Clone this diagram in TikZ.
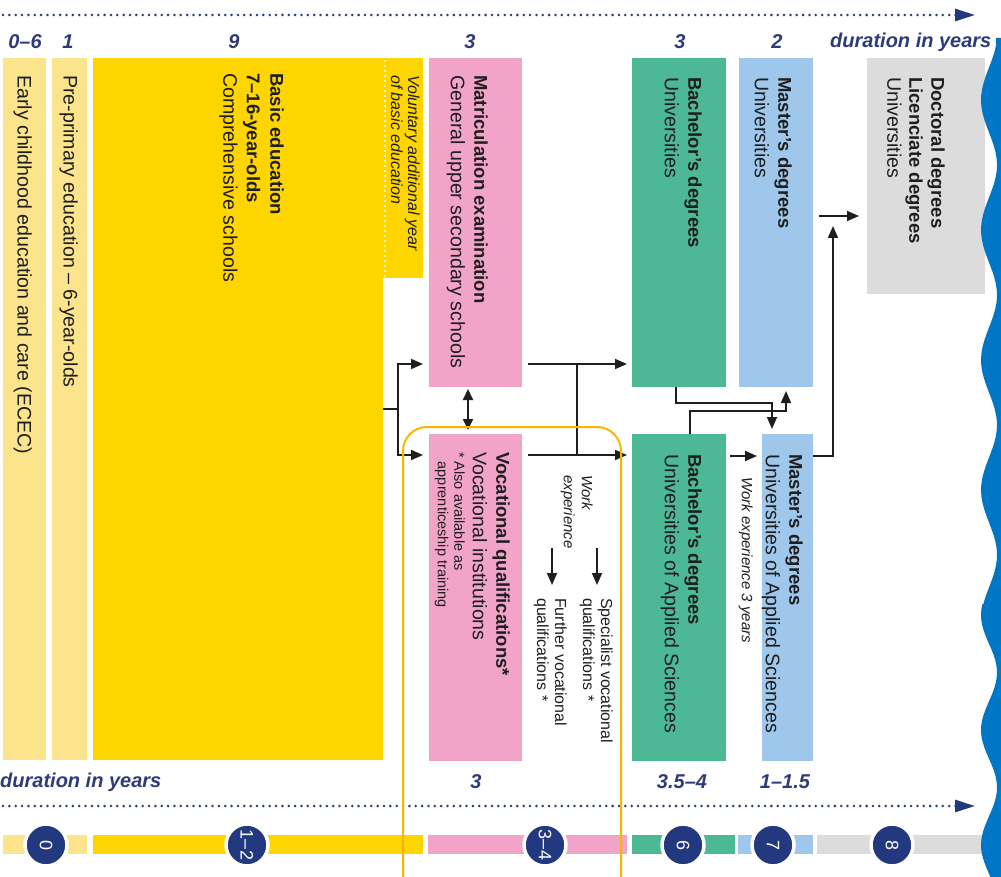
\documentclass[tikz,border=0pt]{standalone}
\usepackage{fontspec}
\setmainfont{Liberation Sans}
\usetikzlibrary{arrows.meta,calc}
\definecolor{lyel}{HTML}{FCE48C}
\definecolor{yel}{HTML}{FFD500}
\definecolor{pnk}{HTML}{F2A3C8}
\definecolor{grn}{HTML}{4DB896}
\definecolor{lblu}{HTML}{9EC7EB}
\definecolor{gry}{HTML}{DCDCDC}
\definecolor{navy}{HTML}{23397F}
\definecolor{durc}{HTML}{2E3B78}
\definecolor{orng}{HTML}{F7B500}
\definecolor{wavec}{HTML}{0077C6}
\definecolor{ink}{HTML}{1E1E1E}
\newcommand\hbold[1]{{\fontsize{18.5}{23.5}\selectfont\bfseries #1}}
\newcommand\durf{\fontsize{20}{22}\selectfont\bfseries\itshape}
\begin{document}
\begin{tikzpicture}[x=1pt,y=-1pt,
 box/.style={anchor=north west, inner sep=0pt, outer sep=0pt, draw=none},
 txt/.style={rotate=-90, anchor=north west, inner sep=0pt, align=left, text=ink, font=\fontsize{19.6}{23.5}\selectfont},
 stxt/.style={txt, font=\fontsize{15}{17}\selectfont\itshape},
 ntxt/.style={txt, font=\fontsize{14.5}{16.5}\selectfont},
 vtxt/.style={txt, font=\fontsize{16}{18}\selectfont},
 dur/.style={text=durc, font=\durf, inner sep=0pt},
 ln/.style={line width=1.8pt, draw=ink},
 arr/.style={ln, -{Triangle[length=12pt,width=10pt]}},
 darr/.style={ln, {Triangle[length=11pt,width=10pt]}-{Triangle[length=11pt,width=10pt]}},
 dotl/.style={draw=navy, line width=2.8pt, line cap=round, dash pattern=on 0pt off 6.35pt, -{Triangle[length=20pt,width=12pt]}},
 circ/.style={circle, fill=navy, draw=white, line width=3.5pt, minimum size=42pt, inner sep=0pt, text=white, rotate=-90, font=\fontsize{18}{18}\selectfont},
]
\useasboundingbox (0,0) rectangle (1001,877);
\fill[white] (0,0) rectangle (1001,877);

% timelines
\coordinate (tl0) at (3,15); \coordinate (tl1) at (975,15);
\coordinate (bl0) at (3,806); \coordinate (bl1) at (975,806);
\draw[dotl] (tl0) -- (tl1);
\draw[dotl] (bl0) -- (bl1);

% durations top
\node[dur] (d1) at (25,42) {0–6};
\node[dur] (d2) at (68,42) {1};
\node[dur] (d3) at (234,42) {9};
\node[dur] (d4) at (470,42) {3};
\node[dur] (d5) at (680,42) {3};
\node[dur] (d6) at (777,42) {2};
\node[dur, anchor=west] (d7) at (830,42) {duration in years};
% durations bottom
\node[dur, anchor=west] (e1) at (0,782) {duration in years};
\node[dur] (e2) at (476,782) {3};
\node[dur] (e3) at (682,782) {3.5–4};
\node[dur] (e4) at (785,782) {1–1.5};

% boxes
\node[box, fill=lyel, minimum width=43pt, minimum height=702pt] (ecec) at (3,58) {};
\node[box, fill=lyel, minimum width=35pt, minimum height=702pt] (pre) at (52,58) {};
\node[box, fill=yel, minimum width=290pt, minimum height=702pt] (basic) at (93,58) {};
\node[box, fill=yel, minimum width=40pt, minimum height=220pt] (vol) at (383,58) {};
\node[box, fill=pnk, minimum width=93pt, minimum height=329pt] (matric) at (429,58) {};
\node[box, fill=pnk, minimum width=93pt, minimum height=327pt] (voc) at (429,434) {};
\node[box, fill=grn, minimum width=94pt, minimum height=329pt] (bachu) at (632,58) {};
\node[box, fill=lblu, minimum width=74pt, minimum height=329pt] (mastu) at (739,58) {};
\node[box, fill=gry, minimum width=118pt, minimum height=236pt] (doc) at (867,58) {};
\node[box, fill=grn, minimum width=94pt, minimum height=327pt] (bachuas) at (632,434) {};
\node[box, fill=lblu, minimum width=51pt, minimum height=327pt] (mastuas) at (762,434) {};
\draw[white, line width=2.2pt, line cap=round, dash pattern=on 0pt off 5pt] ([xshift=2pt,yshift=-3pt]vol.north west) -- ([xshift=2pt]vol.south west);

% texts
\node[txt] (tecec) at (32,75) {Early childhood education and care (ECEC)};
\node[txt] (tpre) at (78,75) {Pre-primary education – 6-year-olds};
\node[txt] (tbasic) at (284,73) {\hbold{Basic education}\\\hbold{7–16-year-olds}\\Comprehensive schools};
\node[stxt, font=\fontsize{16}{17}\selectfont\itshape] (tvol) at (420,75) {Voluntary additional year\\of basic education};
\node[txt] (tmat) at (488,75) {\hbold{Matriculation examination}\\General upper secondary schools};
\node[txt] (tvoc) at (510,452) {\hbold{Vocational qualifications*}\\Vocational institutions};
\node[ntxt] (tvocn) at (465,452) {* Also available as\\\hphantom{* }apprenticeship training};
\node[txt] (tbu) at (702,77) {\hbold{Bachelor’s degrees}\\Universities};
\node[txt] (tmu) at (792,77) {\hbold{Master’s degrees}\\Universities};
\node[txt, font=\fontsize{19.6}{22}\selectfont] (tdoc) at (945,77) {\hbold{Doctoral degrees}\\\hbold{Licenciate degrees}\\Universities};
\node[txt] (tbuas) at (702,454) {\hbold{Bachelor’s degrees}\\Universities of Applied Sciences};
\node[txt] (tmuas) at (803,454) {\hbold{Master’s degrees}\\Universities of Applied Sciences};
\node[stxt, font=\fontsize{15}{18}\selectfont\itshape] (twork) at (593,475) {Work\\experience};
\node[vtxt] (tspec) at (613,598) {Specialist vocational\\qualifications *};
\node[vtxt] (tfur) at (567,598) {Further vocational\\qualifications *};
\node[stxt] (twork3) at (753,477) {Work experience 3 years};

% connectors
\coordinate (rowA) at (0,364);
\coordinate (rowB) at (0,455);
\coordinate (rowC) at (0,456);
\coordinate (rowD) at (0,216);
\coordinate (jb) at (398,409);
\draw[ln] (basic.east) -- (jb);
\draw[arr, shorten >=6pt] (jb) |- (matric.west |- rowA);
\draw[arr, shorten >=6pt] (jb) |- (voc.west |- rowB);
\draw[arr, shorten <=6pt, shorten >=5pt] (matric.east |- rowA) -- (bachu.west |- rowA);
\draw[arr, shorten <=6pt, shorten >=5pt] (voc.east |- rowB) -- (bachuas.west |- rowB);
\coordinate (xA) at (577,364); \coordinate (xB) at (577,455);
\draw[ln] (xA) -- (xB);
\coordinate (dcol) at (468,0);
\draw[darr, shorten <=2pt, shorten >=4pt] (matric.south -| dcol) -- (voc.north -| dcol);
\coordinate (p1) at (676,403); \coordinate (p2) at (772,403);
\draw[arr, shorten >=5pt] (bachu.south -| p1) -- (p1) -- (p2) -- (mastuas.north -| p2);
\coordinate (q1) at (690,411); \coordinate (q2) at (786,411);
\draw[arr, shorten >=4pt] (bachuas.north -| q1) -- (q1) -- (q2) -- (mastu.south -| q2);
\draw[arr, shorten <=4pt, shorten >=5pt] (bachuas.east |- rowC) -- (mastuas.west |- rowC);
\coordinate (s1) at (833,456); \coordinate (s2) at (833,226);
\draw[arr] (mastuas.east |- s1) -- (s1) -- (s2);
\draw[arr, shorten <=6pt, shorten >=8pt] (mastu.east |- rowD) -- (doc.west |- rowD);
\coordinate (w1a) at (597,548); \coordinate (w1b) at (597,585);
\coordinate (w2a) at (552,548); \coordinate (w2b) at (552,585);
\draw[arr] (w1a) -- (w1b);
\draw[arr] (w2a) -- (w2b);

% bottom bars
\fill[lyel] (3,835) rectangle (47,854);
\fill[lyel] (52,835) rectangle (87,854);
\fill[yel] (93,835) rectangle (423,854);
\fill[pnk] (428,835) rectangle (627,854);
\fill[grn] (632,835) rectangle (735,854);
\fill[lblu] (738,835) rectangle (813,854);
\fill[gry] (817,835) rectangle (985,854);
\node[circ] (c0) at (46,845) {0};
\node[circ] (c1) at (247,845) {1–2};
\node[circ] (c3) at (545,845) {3–4};
\node[circ] (c6) at (683,845) {6};
\node[circ] (c7) at (773,845) {7};
\node[circ] (c8) at (892,845) {8};

% orange highlight
\draw[orng, line width=2pt, rounded corners=24pt] (403,895) -- (403,427) -- (621,427) -- (621,895);

% blue wave
\fill[wavec] (1001,38) -- (996,38) -- plot[domain=45:604, samples=90, variable=\t] ({989-8*cos((\t-100)/130*360)},\t) -- (1001,604) -- cycle;
\fill[wavec] (1001,604) -- plot[domain=604:877, samples=60, variable=\t] ({989-8*cos((\t-730)/115*360)},\t) -- (1001,877) -- cycle;
\end{tikzpicture}
\end{document}
